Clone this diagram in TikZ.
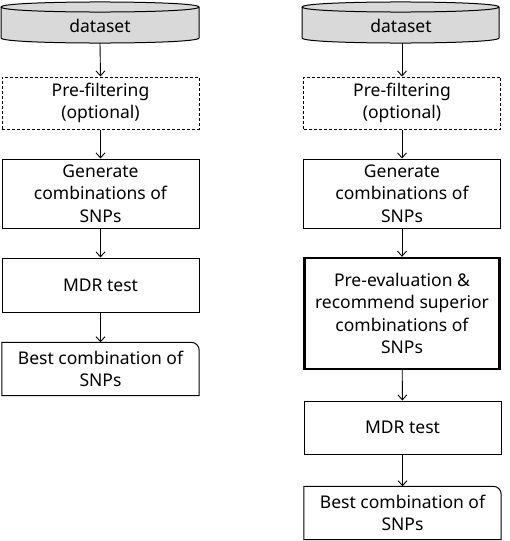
\documentclass[tikz,border=0pt]{standalone}
\usepackage{fontspec}
\setmainfont{Noto Sans}
\usetikzlibrary{arrows.meta}
\begin{document}
\begin{tikzpicture}[x=1pt,y=-1pt,
  every node/.style={font=\fontsize{17.5}{22.5}\selectfont, align=center, inner sep=0pt},
  stepbox/.style={draw, line width=1pt, minimum width=197pt},
  optbox/.style={stepbox, dashed, dash pattern=on 3pt off 2pt},
  evalbox/.style={draw, line width=2.4pt, minimum width=195pt},
  endbox/.style={minimum width=197pt},
  flow/.style={draw, line width=0.9pt, -{Straight Barb[length=5pt,width=9pt,line width=0.9pt]}},
  dbfill/.style={fill=gray!30, draw, line width=1pt}]
\useasboundingbox (0,0) rectangle (509,541);

% ---------- left column ----------
\path[dbfill] (1,7) -- (1,38) .. controls (1,44.7) and (199,44.7) .. (199,38) -- (199,7) .. controls (199,0.3) and (1,0.3) .. (1,7) -- cycle;
\draw[line width=1pt] (1,7) .. controls (1,13.7) and (199,13.7) .. (199,7);
\node (ldata) at (100,26) {dataset};
\coordinate (ldatab) at (100,43);
\node[optbox, minimum height=52pt] (lpre) at (100.5,103) {Pre-filtering\\(optional)};
\node[stepbox, minimum height=69pt] (lgen) at (100.5,193.5) {Generate\\combinations of\\SNPs};
\node[stepbox, minimum height=54pt] (lmdr) at (100.5,285) {MDR test};
\node[endbox, minimum height=53pt] (lbest) at (100.5,369) {Best combination of\\SNPs};
\draw[line width=1pt] (lbest.south west) -- (lbest.north west) -- ([xshift=-8pt]lbest.north east) arc[start angle=90,end angle=0,radius=8pt] -- (lbest.south east) -- cycle;

\draw[flow] (ldatab) -- (lpre.north);
\draw[flow] (lpre) -- (lgen);
\draw[flow] (lgen) -- (lmdr);
\draw[flow] (lmdr) -- (lbest);

% ---------- right column ----------
\path[dbfill] (302,7) -- (302,38) .. controls (302,44.7) and (499,44.7) .. (499,38) -- (499,7) .. controls (499,0.3) and (302,0.3) .. (302,7) -- cycle;
\draw[line width=1pt] (302,7) .. controls (302,13.7) and (499,13.7) .. (499,7);
\node (rdata) at (401,26) {dataset};
\coordinate (rdatab) at (402,43);
\node[optbox, minimum height=52pt] (rpre) at (402,103) {Pre-filtering\\(optional)};
\node[stepbox, minimum height=69pt] (rgen) at (402,193.5) {Generate\\combinations of\\SNPs};
\node[evalbox, minimum height=111pt] (reval) at (402,313.5) {Pre-evaluation \&\\recommend superior\\combinations of\\SNPs};
\node[stepbox, minimum height=53pt] (rmdr) at (402.5,427.5) {MDR test};
\node[endbox, minimum height=53pt] (rbest) at (402.5,513) {Best combination of\\SNPs};
\draw[line width=1pt] (rbest.south west) -- (rbest.north west) -- ([xshift=-8pt]rbest.north east) arc[start angle=90,end angle=0,radius=8pt] -- (rbest.south east) -- cycle;

\draw[flow] (rdatab) -- (rpre.north);
\draw[flow] (rpre) -- (rgen);
\draw[flow] (rgen) -- (reval);
\draw[flow] (reval) -- (rmdr);
\draw[flow] (rmdr) -- (rbest);
\end{tikzpicture}
\end{document}
